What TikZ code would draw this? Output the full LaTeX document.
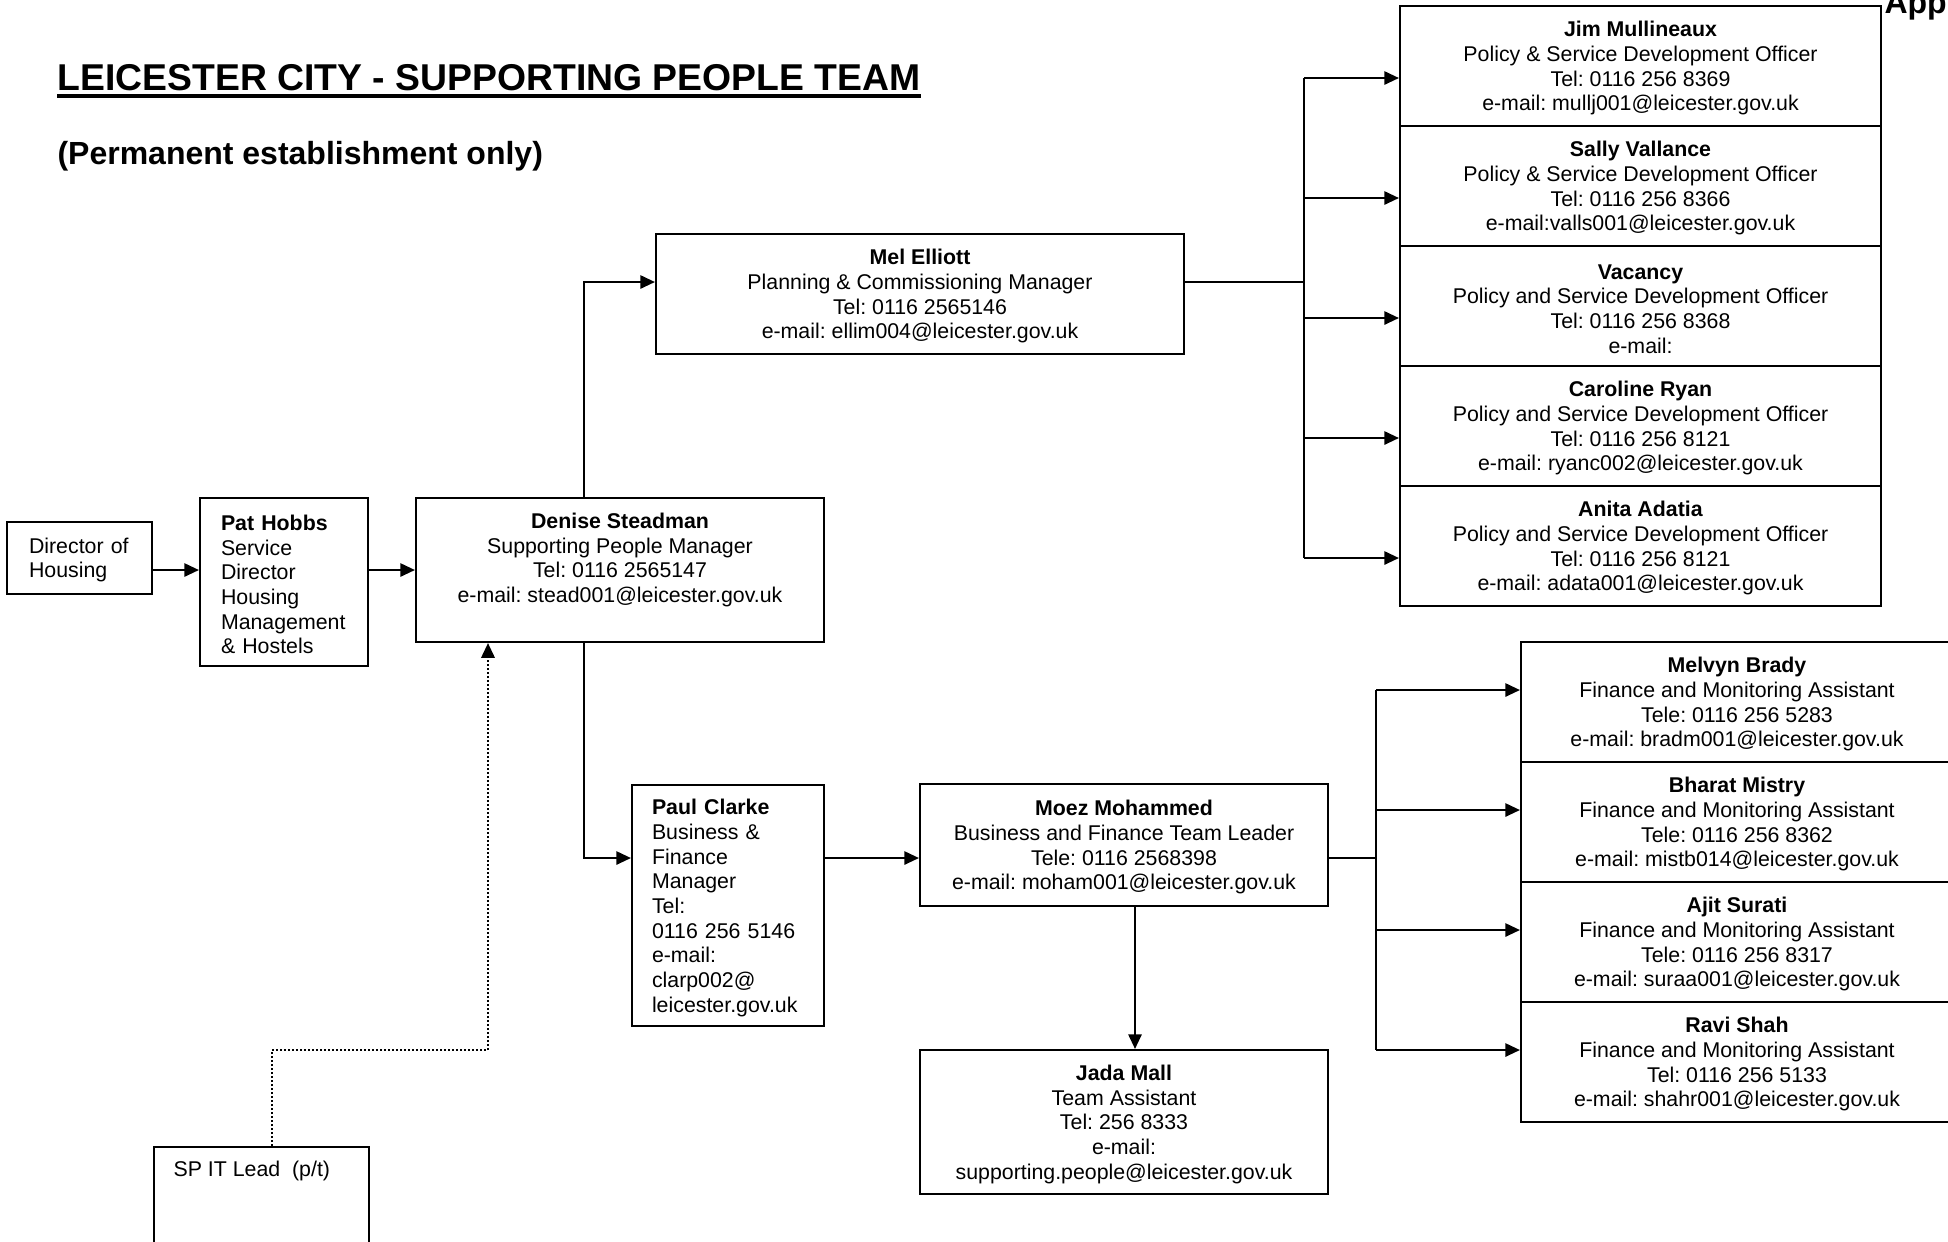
\documentclass[tikz,border=0pt]{standalone}
\usepackage{fontspec}
\setmainfont{Liberation Sans}
\usetikzlibrary{arrows.meta,calc}
\frenchspacing
\newcommand{\nm}[1]{\rule{0pt}{7.6pt}\textbf{#1}}
\newcommand{\fl}{\rule{0pt}{7.2pt}}
\begin{document}
\begin{tikzpicture}[x=0.375pt,y=-0.375pt,
  body/.style={font=\fontsize{8pt}{9.25pt}\selectfont\frenchspacing},
  box/.style={draw=black, line width=0.8pt, rectangle, inner sep=0pt, align=center, body},
  wh/.style 2 args={minimum width=#1*0.375pt, minimum height=#2*0.375pt},
  lbox/.style n args={3}{draw=black, line width=0.8pt, rectangle, inner ysep=0pt,
     inner xsep=#2*0.375pt, text width=#1*0.375pt-2*#2*0.375pt, minimum height=#3*0.375pt, align=left, body},
  conn/.style={line width=0.75pt},
  arr/.style={conn, -{Triangle[length=5.5pt,width=5pt]}},
  dotarr/.style={line width=0.75pt, dash pattern=on 0.75pt off 0.75pt, -{Triangle[length=5.5pt,width=5pt]}}
]
\useasboundingbox (0,0) rectangle (1948,1241);

% titles
\node[anchor=base west, inner sep=0pt, font=\fontsize{14pt}{16pt}\selectfont\bfseries] (title) at (57,90) {LEICESTER CITY - SUPPORTING PEOPLE TEAM};
\draw[line width=1.2pt] ([yshift=-2.25pt]title.base west) -- ([yshift=-2.25pt]title.base east);
\node[anchor=base west, inner sep=0pt, font=\fontsize{12pt}{14pt}\selectfont\bfseries] (sub) at (57,164) {(Permanent establishment only)};
\node[anchor=base west, inner sep=0pt, font=\fontsize{12pt}{14pt}\selectfont\bfseries] (app) at (1884,13) {Appe};

% left chain
\node[lbox={145}{22}{72}] (dir) at (79.5,558) {\fl Director of\\Housing};
\node[lbox={168}{21}{168}] (pat) at (284,582) {\nm{Pat Hobbs}\\Service\\Director\\Housing\\Management\\\& Hostels};
\node[box, wh={408}{144}] (den) at (620,570) {\textbf{Denise Steadman}\\Supporting People Manager\\Tel: 0116 2565147\\e-mail: stead001@leicester.gov.uk\\\mbox{}};
\node[box, wh={528}{120}] (mel) at (920,294) {\nm{Mel Elliott}\\Planning \& Commissioning Manager\\Tel: 0116 2565146\\e-mail: ellim004@leicester.gov.uk};

% policy column
\node[box, wh={481}{120}] (p1) at (1640.5,66) {\nm{Jim Mullineaux}\\Policy \& Service Development Officer\\Tel: 0116 256 8369\\e-mail: mullj001@leicester.gov.uk};
\node[box, wh={481}{120}] (p2) at (1640.5,186) {\nm{Sally Vallance}\\Policy \& Service Development Officer\\Tel: 0116 256 8366\\e-mail:valls001@leicester.gov.uk};
\node[box, wh={481}{120}] (p3) at (1640.5,306) {\nm{Vacancy}\\Policy and Service Development Officer\\Tel: 0116 256 8368\\e-mail:};
\node[box, wh={481}{120}] (p4) at (1640.5,426) {\nm{Caroline Ryan}\\Policy and Service Development Officer\\Tel: 0116 256 8121\\e-mail: ryanc002@leicester.gov.uk};
\node[box, wh={481}{120}] (p5) at (1640.5,546) {\nm{Anita Adatia}\\Policy and Service Development Officer\\Tel: 0116 256 8121\\e-mail: adata001@leicester.gov.uk};

% lower chain
\node[lbox={192}{20}{241}] (paul) at (728,905.5) {\nm{Paul Clarke}\\Business \&\\Finance\\Manager\\Tel:\\0116 256 5146\\e-mail:\\clarp002@\\leicester.gov.uk};
\node[box, wh={408}{122}] (moez) at (1124,845) {\nm{Moez Mohammed}\\Business and Finance Team Leader\\Tele: 0116 2568398\\e-mail: moham001@leicester.gov.uk};
\node[box, wh={408}{144}] (jada) at (1124,1122) {\nm{Jada Mall}\\Team Assistant\\Tel: 256 8333\\e-mail:\\supporting.people@leicester.gov.uk};

% finance column
\node[box, wh={432}{120}] (f1) at (1737,702) {\nm{Melvyn Brady}\\Finance and Monitoring Assistant\\Tele: 0116 256 5283\\e-mail: bradm001@leicester.gov.uk};
\node[box, wh={432}{120}] (f2) at (1737,822) {\nm{Bharat Mistry}\\Finance and Monitoring Assistant\\Tele: 0116 256 8362\\e-mail: mistb014@leicester.gov.uk};
\node[box, wh={432}{120}] (f3) at (1737,942) {\nm{Ajit Surati}\\Finance and Monitoring Assistant\\Tele: 0116 256 8317\\e-mail: suraa001@leicester.gov.uk};
\node[box, wh={432}{120}] (f4) at (1737,1062) {\nm{Ravi Shah}\\Finance and Monitoring Assistant\\Tel: 0116 256 5133\\e-mail: shahr001@leicester.gov.uk};

% SP IT lead
\node[draw=black, line width=0.8pt, rectangle, inner sep=0pt, anchor=north west, wh={215}{125}] (spit) at (153,1146) {};
\node[anchor=base west, inner sep=0pt, body] (spitt) at (173,1176) {SP IT Lead\ \ (p/t)};

% coordinates
\coordinate (dx) at (584,0);
\coordinate (t1) at (1304,0);
\coordinate (t2) at (1376,0);
\coordinate (row) at (0,858);
\coordinate (jx) at (1135,0);
\coordinate (d1) at (272,1050);
\coordinate (d2) at (488,1050);
\coordinate (mj) at ($(mel.west)+(0,-12)$);

% connectors
\draw[arr] (dir.east |- den.west) -- (pat.west |- den.west);
\draw[arr] (pat.east |- den.west) -- (den.west);
\draw[arr] (den.north -| dx) |- (mj);
\draw[conn] (mel.east |- mj) -- (t1 |- mj);
\draw[conn] ($(t1 |- p1.west)+(0,12)$) -- ($(t1 |- p5.west)+(0,12)$);
\foreach \i in {1,...,5} {\draw[arr] ($(t1 |- p\i.west)+(0,12)$) -- ($(p\i.west)+(0,12)$);}

\draw[arr] (den.south -| dx) |- (paul.west |- row);
\draw[arr] (paul.east |- row) -- (moez.west |- row);
\draw[conn] (moez.east |- row) -- (t2 |- row);
\draw[conn] ($(t2 |- f1.west)+(0,-12)$) -- ($(t2 |- f4.west)+(0,-12)$);
\foreach \i in {1,...,4} {\draw[arr] ($(t2 |- f\i.west)+(0,-12)$) -- ($(f\i.west)+(0,-12)$);}
\draw[arr] (moez.south -| jx) -- (jada.north -| jx);

\draw[dotarr] (spit.north -| d1) -- (d1) -- (d2) -- (den.south -| d2);
\end{tikzpicture}
\end{document}
